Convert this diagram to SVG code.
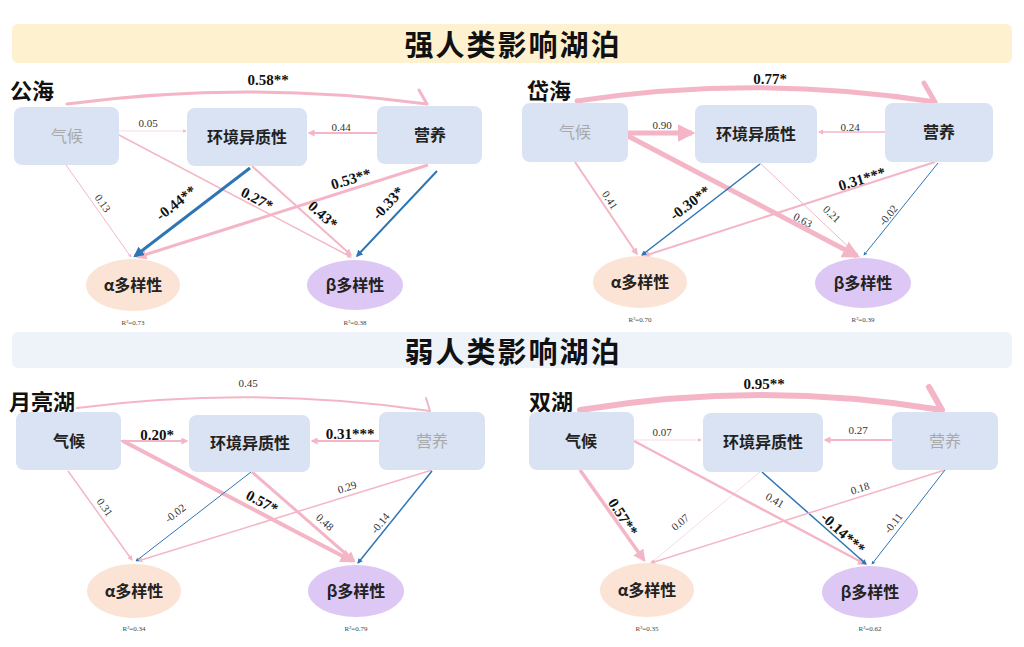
<svg xmlns="http://www.w3.org/2000/svg" width="1024" height="647" viewBox="0 0 1024 647">
<style>
.bg{fill:#ffffff}
.hd1{fill:#fdf1cf}
.hd2{fill:#eef3fa}
.hdt{font-family:"Noto Sans CJK SC","Noto Sans",sans-serif;font-weight:700;font-size:29px;fill:#111;text-anchor:middle;letter-spacing:2px}
.pt{font-family:"Noto Sans CJK SC","Noto Sans",sans-serif;font-weight:700;font-size:22px;fill:#111}
.box{fill:#dae3f3}
.ea{fill:#fbe4d6}
.eb{fill:#ddc8f5}
.nt{font-family:"Noto Sans CJK SC","Noto Sans",sans-serif;font-weight:700;font-size:16px;fill:#222;text-anchor:middle}
.ng{font-family:"Noto Sans CJK SC","Noto Sans",sans-serif;font-weight:400;font-size:16px;fill:#a9a9a9;text-anchor:middle}
.p{fill:none;stroke:#f4b6c6;marker-end:url(#ap)}
.pf{fill:none;stroke:#f7dbe3;marker-end:url(#ap)}
.b{fill:none;stroke:#2e75b6;marker-end:url(#ab)}
.c{fill:none;stroke:#f4b6c6;stroke-linecap:round}
.l{font-family:"Liberation Serif","Times New Roman",serif;font-size:11px;fill:#333;text-anchor:middle}
.lb{font-family:"Liberation Serif","Times New Roman",serif;font-size:15px;font-weight:700;fill:#111;text-anchor:middle}
.r{font-family:"Liberation Serif","Times New Roman",serif;font-size:7px;fill:#444;text-anchor:middle}
</style>
<defs>
<marker id="ap" viewBox="0 0 10 10" refX="8" refY="5" markerWidth="3.5" markerHeight="3.5" orient="auto" markerUnits="strokeWidth"><path d="M0,0 L10,5 L0,10 z" fill="#f4b6c6"/></marker>
<marker id="ab" viewBox="0 0 10 10" refX="8" refY="5" markerWidth="3.5" markerHeight="3.5" orient="auto" markerUnits="strokeWidth"><path d="M0,0 L10,5 L0,10 z" fill="#2e75b6"/></marker>
</defs>
<rect class="bg" x="0" y="0" width="1024" height="647"/>

<g id="header-strong">
<rect class="hd1" x="12" y="24" width="1000" height="39" rx="6"/>
<text class="hdt" x="513" y="56">强人类影响湖泊</text>
</g>
<g id="header-weak">
<rect class="hd2" x="12" y="332" width="1000" height="36" rx="6"/>
<text class="hdt" x="513" y="363">弱人类影响湖泊</text>
</g>

<!-- Panel 1 公海 -->
<g id="p1-connectors">
<path class="c" stroke-width="3" d="M67,104 Q248,80 427,104 M427,104 L419,90"/>
<path class="pf" stroke-width="1" d="M118,131 L186,131"/>
<path class="p" stroke-width="2" d="M377,133 L309,133"/>
<path class="p" stroke-width="1" d="M66,165 L131,257"/>
<path class="p" stroke-width="1.5" d="M119,135 L351,257"/>
<path class="p" stroke-width="2" d="M252,166 L351,255"/>
<path class="p" stroke-width="3" d="M428,165 L138,257"/>
<path class="b" stroke-width="3" d="M250,168 L135,256"/>
<path class="b" stroke-width="2" d="M437,171 L357,256"/>
<text class="lb" x="268" y="85">0.58**</text>
<text class="l" x="148" y="127">0.05</text>
<text class="l" x="341" y="131">0.44</text>
<text class="l" transform="translate(103,203) rotate(55)" y="4">0.13</text>
<text class="lb" transform="translate(176,203) rotate(-38)" y="5">-0.44**</text>
<text class="lb" transform="translate(257,199) rotate(28)" y="5">0.27*</text>
<text class="lb" transform="translate(323,215) rotate(42)" y="5">0.43*</text>
<text class="lb" transform="translate(351,179) rotate(-17)" y="5">0.53**</text>
<text class="lb" transform="translate(388,203) rotate(-47)" y="5">-0.33*</text>
</g>
<text class="pt" x="10" y="99">公海</text>
<g id="p1-climate"><rect class="box" x="14" y="107" width="105" height="58" rx="8"/><text class="ng" x="67" y="142">气候</text></g>
<g id="p1-env"><rect class="box" x="187" y="108" width="120" height="58" rx="8"/><text class="nt" x="247" y="143">环境异质性</text></g>
<g id="p1-nutr"><rect class="box" x="377" y="106" width="105" height="58" rx="8"/><text class="nt" x="430" y="141">营养</text></g>
<g id="p1-alpha"><ellipse class="ea" cx="133" cy="285" rx="47" ry="26"/><text class="nt" x="133" y="291">α多样性</text><text class="r" x="133" y="325">R²=0.73</text></g>
<g id="p1-beta"><ellipse class="eb" cx="355" cy="285" rx="48" ry="25"/><text class="nt" x="355" y="291">β多样性</text><text class="r" x="355" y="325">R²=0.38</text></g>

<!-- Panel 2 岱海 -->
<g id="p2-connectors">
<path class="c" stroke-width="5" d="M577,101 Q756,74 935,102 M935,102 L924,83"/>
<path class="p" stroke-width="5" d="M628,133 L692,133"/>
<path class="p" stroke-width="1.5" d="M885,132 L819,132"/>
<path class="p" stroke-width="2" d="M575,162 L637,254"/>
<path class="p" stroke-width="5" d="M628,136 L857,256"/>
<path class="p" stroke-width="1" d="M760,163 L857,255"/>
<path class="p" stroke-width="2" d="M935,162 L644,256"/>
<path class="b" stroke-width="1.5" d="M760,164 L642,255"/>
<path class="b" stroke-width="1" d="M938,163 L864,255"/>
<text class="lb" x="770" y="84">0.77*</text>
<text class="l" x="662" y="129">0.90</text>
<text class="l" x="850" y="131">0.24</text>
<text class="l" transform="translate(610,200) rotate(57)" y="4">0.41</text>
<text class="lb" transform="translate(690,203) rotate(-37)" y="5">-0.30**</text>
<text class="l" transform="translate(803,220) rotate(28)" y="4">0.63</text>
<text class="l" transform="translate(832,214) rotate(43)" y="4">0.21</text>
<text class="lb" transform="translate(862,179) rotate(-17)" y="5">0.31***</text>
<text class="l" transform="translate(888,215) rotate(-51)" y="4">-0.02</text>
</g>
<text class="pt" x="527" y="99">岱海</text>
<g id="p2-climate"><rect class="box" x="522" y="103" width="106" height="59" rx="8"/><text class="ng" x="575" y="138">气候</text></g>
<g id="p2-env"><rect class="box" x="695" y="105" width="122" height="58" rx="8"/><text class="nt" x="756" y="140">环境异质性</text></g>
<g id="p2-nutr"><rect class="box" x="885" y="103" width="108" height="59" rx="8"/><text class="nt" x="939" y="138">营养</text></g>
<g id="p2-alpha"><ellipse class="ea" cx="640" cy="282" rx="47" ry="26"/><text class="nt" x="640" y="288">α多样性</text><text class="r" x="640" y="322">R²=0.70</text></g>
<g id="p2-beta"><ellipse class="eb" cx="863" cy="283" rx="48" ry="25"/><text class="nt" x="863" y="289">β多样性</text><text class="r" x="863" y="322">R²=0.39</text></g>

<!-- Panel 3 月亮湖 -->
<g id="p3-connectors">
<path class="c" stroke-width="2" d="M77,408 Q254,385 430,411 M430,411 L426,398"/>
<path class="p" stroke-width="2" d="M121,441 L187,441"/>
<path class="p" stroke-width="2" d="M379,441 L312,441"/>
<path class="p" stroke-width="1.5" d="M68,471 L132,560"/>
<path class="p" stroke-width="4" d="M123,441 L352,561"/>
<path class="p" stroke-width="3" d="M252,472 L354,561"/>
<path class="p" stroke-width="1.5" d="M432,470 L138,561"/>
<path class="b" stroke-width="1" d="M251,472 L136,561"/>
<path class="b" stroke-width="1.5" d="M432,471 L358,563"/>
<text class="l" x="248" y="387">0.45</text>
<text class="lb" x="157" y="440">0.20*</text>
<text class="lb" x="350" y="439">0.31***</text>
<text class="l" transform="translate(105,507) rotate(55)" y="4">0.31</text>
<text class="lb" transform="translate(262,502) rotate(28)" y="5">0.57*</text>
<text class="l" transform="translate(325,522) rotate(42)" y="4">0.48</text>
<text class="l" transform="translate(347,487) rotate(-17)" y="4">0.29</text>
<text class="l" transform="translate(175,513) rotate(-38)" y="4">-0.02</text>
<text class="l" transform="translate(380,523) rotate(-51)" y="4">-0.14</text>
</g>
<text class="pt" x="9" y="410">月亮湖</text>
<g id="p3-climate"><rect class="box" x="16" y="412" width="105" height="58" rx="8"/><text class="nt" x="69" y="447">气候</text></g>
<g id="p3-env"><rect class="box" x="189" y="415" width="121" height="57" rx="8"/><text class="nt" x="250" y="449">环境异质性</text></g>
<g id="p3-nutr"><rect class="box" x="379" y="412" width="106" height="58" rx="8"/><text class="ng" x="432" y="447">营养</text></g>
<g id="p3-alpha"><ellipse class="ea" cx="134" cy="591" rx="47" ry="27"/><text class="nt" x="134" y="597">α多样性</text><text class="r" x="134" y="631">R²=0.34</text></g>
<g id="p3-beta"><ellipse class="eb" cx="356" cy="591" rx="48" ry="26"/><text class="nt" x="356" y="597">β多样性</text><text class="r" x="356" y="631">R²=0.79</text></g>

<!-- Panel 4 双湖 -->
<g id="p4-connectors">
<path class="c" stroke-width="6" d="M580,410 Q761,380 942,410 M942,410 L929,387"/>
<path class="pf" stroke-width="1" d="M634,440 L701,440"/>
<path class="p" stroke-width="2" d="M892,440 L825,440"/>
<path class="p" stroke-width="3.5" d="M580,470 L644,560"/>
<path class="pf" stroke-width="1" d="M760,472 L651,563"/>
<path class="p" stroke-width="2.5" d="M634,441 L865,564"/>
<path class="b" stroke-width="1.5" d="M762,472 L866,564"/>
<path class="p" stroke-width="1.5" d="M945,470 L651,563"/>
<path class="b" stroke-width="1" d="M945,470 L872,564"/>
<text class="lb" x="764" y="389">0.95**</text>
<text class="l" x="662" y="436">0.07</text>
<text class="l" x="858" y="434">0.27</text>
<text class="lb" transform="translate(623,517) rotate(57)" y="5">0.57**</text>
<text class="l" transform="translate(680,522) rotate(-40)" y="4">0.07</text>
<text class="l" transform="translate(775,500) rotate(30)" y="4">0.41</text>
<text class="lb" transform="translate(843,533) rotate(42)" y="5">-0.14***</text>
<text class="l" transform="translate(860,488) rotate(-17)" y="4">0.18</text>
<text class="l" transform="translate(893,523) rotate(-52)" y="4">-0.11</text>
</g>
<text class="pt" x="529" y="410">双湖</text>
<g id="p4-climate"><rect class="box" x="529" y="412" width="105" height="58" rx="8"/><text class="nt" x="581" y="447">气候</text></g>
<g id="p4-env"><rect class="box" x="703" y="413" width="120" height="59" rx="8"/><text class="nt" x="763" y="448">环境异质性</text></g>
<g id="p4-nutr"><rect class="box" x="892" y="412" width="106" height="58" rx="8"/><text class="ng" x="945" y="447">营养</text></g>
<g id="p4-alpha"><ellipse class="ea" cx="647" cy="590" rx="47" ry="27"/><text class="nt" x="647" y="596">α多样性</text><text class="r" x="647" y="631">R²=0.35</text></g>
<g id="p4-beta"><ellipse class="eb" cx="870" cy="592" rx="48" ry="26"/><text class="nt" x="870" y="598">β多样性</text><text class="r" x="870" y="631">R²=0.62</text></g>
</svg>
